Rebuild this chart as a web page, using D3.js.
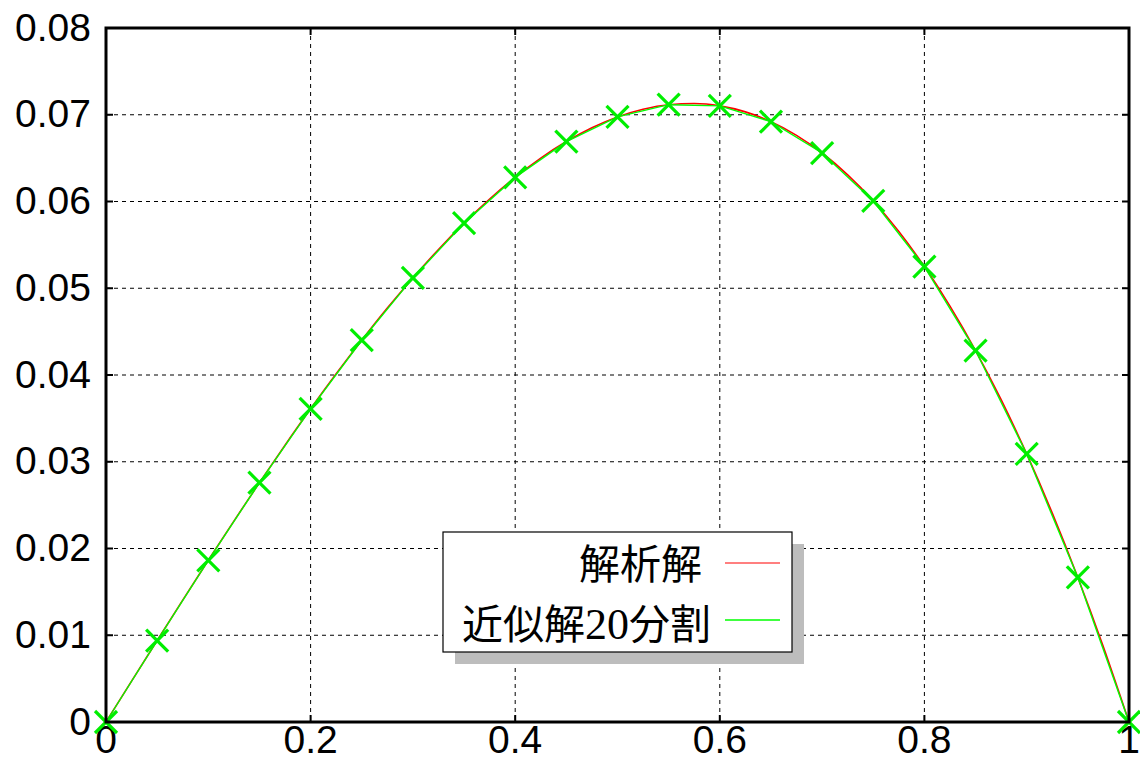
<!DOCTYPE html>
<html>
<head>
<meta charset="utf-8">
<script src="https://cdn.jsdelivr.net/npm/d3@7"></script>
<style>
  html, body { margin: 0; padding: 0; background: #fff; }
  svg { display: block; }
  .num { font-family: "Liberation Sans", Arial, sans-serif; }
</style>
</head>
<body>
<svg id="chart" width="1140" height="765"></svg>
<script>
// Analytical solution sampled along x
const exactX = [0, 0.025, 0.05, 0.075, 0.1, 0.125, 0.15, 0.175, 0.2, 0.225, 0.25, 0.275, 0.3, 0.325, 0.35, 0.375, 0.4, 0.425, 0.45, 0.475, 0.5, 0.525, 0.55, 0.575, 0.6, 0.625, 0.65, 0.675, 0.7, 0.725, 0.75, 0.775, 0.8, 0.825, 0.85, 0.875, 0.9, 0.925, 0.95, 0.975, 1];
const exactY = [0, 0.00471, 0.00940, 0.01405, 0.01864, 0.02316, 0.02759, 0.03191, 0.03610, 0.04014, 0.04401, 0.04771, 0.05119, 0.05447, 0.05750, 0.06028, 0.06278, 0.06500, 0.06691, 0.06850, 0.06975, 0.07064, 0.07116, 0.07129, 0.07102, 0.07033, 0.06920, 0.06763, 0.06559, 0.06307, 0.06006, 0.05654, 0.05250, 0.04793, 0.04282, 0.03715, 0.03090, 0.02408, 0.01666, 0.00864, 0];

// Approximate solution, 20 elements (node values)
const nodeX = [0, 0.05, 0.1, 0.15, 0.2, 0.25, 0.3, 0.35, 0.4, 0.45, 0.5, 0.55, 0.6, 0.65, 0.7, 0.75, 0.8, 0.85, 0.9, 0.95, 1];
const nodeY = [0, 0.00939, 0.01864, 0.02759, 0.03610, 0.04401, 0.05119, 0.05750, 0.06278, 0.06691, 0.06975, 0.07116, 0.07102, 0.06920, 0.06559, 0.06006, 0.05250, 0.04282, 0.03090, 0.01666, 0];

const xTicks = [0, 0.2, 0.4, 0.6, 0.8, 1];
const xTickLabels = ["0", "0.2", "0.4", "0.6", "0.8", "1"];
const yTicks = [0, 0.01, 0.02, 0.03, 0.04, 0.05, 0.06, 0.07, 0.08];
const yTickLabels = ["0", "0.01", "0.02", "0.03", "0.04", "0.05", "0.06", "0.07", "0.08"];

const legendLabels = ["解析解", "近似解20分割"];
const legendColors = ["#ff0000", "#00ff00"];

const svg = d3.select("#chart");
const L = 106, R = 1129, T = 28, B = 722;

const x = d3.scaleLinear().domain([0, 1]).range([L, R]);
const y = d3.scaleLinear().domain([0, 0.08]).range([B, T]);

// dashed grid
const grid = svg.append("g");
grid.selectAll("line.gx").data(xTicks.slice(1, -1)).join("line")
  .attr("x1", d => x(d)).attr("x2", d => x(d))
  .attr("y1", T).attr("y2", B)
  .attr("stroke", "#000").attr("stroke-width", 1)
  .attr("stroke-dasharray", "4,4");
grid.selectAll("line.gy").data(yTicks.slice(1, -1)).join("line")
  .attr("x1", L).attr("x2", R)
  .attr("y1", d => y(d)).attr("y2", d => y(d))
  .attr("stroke", "#000").attr("stroke-width", 1)
  .attr("stroke-dasharray", "4,4");

// inward tick marks on all four sides
const tickLen = 7;
const ticks = svg.append("g").attr("stroke", "#000").attr("stroke-width", 2);
xTicks.forEach(d => {
  ticks.append("line").attr("x1", x(d)).attr("x2", x(d)).attr("y1", B).attr("y2", B - tickLen);
  ticks.append("line").attr("x1", x(d)).attr("x2", x(d)).attr("y1", T).attr("y2", T + tickLen);
});
yTicks.forEach(d => {
  ticks.append("line").attr("x1", L).attr("x2", L + tickLen).attr("y1", y(d)).attr("y2", y(d));
  ticks.append("line").attr("x1", R).attr("x2", R - tickLen).attr("y1", y(d)).attr("y2", y(d));
});

// tick labels
svg.append("g").attr("class", "num").selectAll("text").data(xTicks).join("text")
  .attr("x", d => x(d)).attr("y", 753)
  .attr("text-anchor", "middle")
  .attr("font-size", 39)
  .text((d, i) => xTickLabels[i]);
svg.append("g").attr("class", "num").selectAll("text").data(yTicks).join("text")
  .attr("x", 91).attr("y", d => y(d) + 12.5)
  .attr("text-anchor", "end")
  .attr("font-size", 39)
  .text((d, i) => yTickLabels[i]);

// curves
const line = d3.line().x(d => x(d[0])).y(d => y(d[1]));
svg.append("path")
  .datum(exactX.map((v, i) => [v, exactY[i]]))
  .attr("d", d3.line().curve(d3.curveMonotoneX).x(d => x(d[0])).y(d => y(d[1])))
  .attr("fill", "none").attr("stroke", "#ff0000").attr("stroke-width", 1.6);
svg.append("path")
  .datum(nodeX.map((v, i) => [v, nodeY[i]]))
  .attr("d", line)
  .attr("fill", "none").attr("stroke", "#00ff00").attr("stroke-width", 1.4);

// node markers
const m = 11;
const marks = svg.append("g").attr("stroke", "#00ee00").attr("stroke-width", 3.2);
nodeX.forEach((v, i) => {
  const cx = x(v), cy = y(nodeY[i]);
  marks.append("line").attr("x1", cx - m).attr("x2", cx + m).attr("y1", cy - m).attr("y2", cy + m);
  marks.append("line").attr("x1", cx - m).attr("x2", cx + m).attr("y1", cy + m).attr("y2", cy - m);
});

// axes frame
svg.append("rect").attr("x", L).attr("y", T).attr("width", R - L).attr("height", B - T)
  .attr("fill", "none").attr("stroke", "#000").attr("stroke-width", 3);

// legend with drop shadow
const lg = svg.append("g");
const lx = 443, ly = 532, lw = 349, lh = 120;
lg.append("rect").attr("x", lx + 12).attr("y", ly + 12).attr("width", lw).attr("height", lh).attr("fill", "#bdbdbd");
lg.append("rect").attr("x", lx).attr("y", ly).attr("width", lw).attr("height", lh)
  .attr("fill", "#fff").attr("stroke", "#000").attr("stroke-width", 1.2);
const rowY = [563, 620];
const cjk = "'Noto Sans CJK JP', 'Noto Sans CJK SC', sans-serif";
lg.append("text").attr("x", 702).attr("y", 579)
  .attr("text-anchor", "end").attr("font-size", 41)
  .style("font-family", cjk)
  .text(legendLabels[0]);
const t2 = lg.append("text").attr("x", 711).attr("y", 639)
  .attr("text-anchor", "end").attr("font-size", 41)
  .style("font-family", cjk);
t2.append("tspan").text("近似解");
t2.append("tspan").style("font-family", "'Liberation Serif', serif").attr("font-size", 44).text("20");
t2.append("tspan").text("分割");
legendColors.forEach((c, i) => {
  lg.append("line").attr("x1", 725).attr("x2", 780).attr("y1", rowY[i]).attr("y2", rowY[i])
    .attr("stroke", c).attr("stroke-width", i === 0 ? 1.2 : 1.6);
});
</script>
</body>
</html>
